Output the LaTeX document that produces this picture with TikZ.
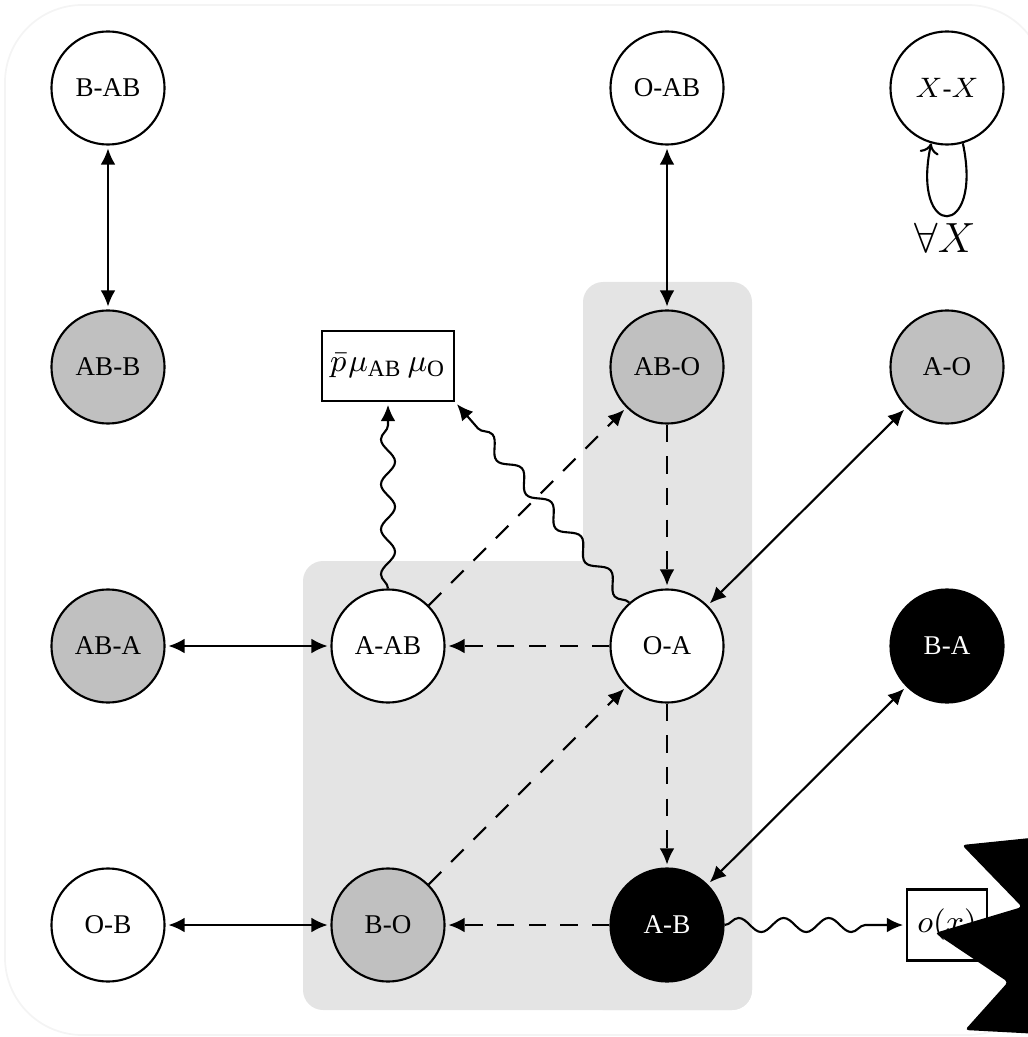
\documentclass[tikz,border=0pt]{standalone}
\usepackage{fontspec}
\setmainfont{Liberation Serif}
\usetikzlibrary{arrows.meta,decorations.pathmorphing}
\definecolor{nodegray}{HTML}{C0C0C0}
\definecolor{plategray}{HTML}{E4E4E4}
\definecolor{outline}{HTML}{F4F4F4}
\newcommand\labelsize{\fontsize{7.7}{9}\selectfont}
\newcommand\factorsize{\fontsize{9.5}{11}\selectfont}
\tikzset{
  state/.style={circle, draw, line width=0.6pt, minimum size=1.13cm, inner sep=0pt, font=\labelsize},
  obs/.style={state, fill=nodegray},
  hid/.style={state, fill=white},
  blk/.style={state, fill=black, text=white},
  factor/.style={rectangle, draw, line width=0.6pt, fill=white, inner sep=0pt, font=\factorsize},
  biarrow/.style={<->, shorten >=0.8pt, shorten <=0.8pt},
  dasharrow/.style={->, dash pattern=on 5pt off 4pt, shorten >=0.8pt},
  wavy/.style={->, shorten >=0.8pt, decorate, decoration={snake, segment length=12.8pt, amplitude=2pt, post length=5.5pt}},
}
\begin{document}
\begin{tikzpicture}[x=0.01cm, y=-0.01cm, line width=0.6pt, >={Latex[length=4.6pt,width=4.2pt]}]
\useasboundingbox (0,0) rectangle (1028,1037);
% faint outer frame
\begin{scope}
  \clip (0,0) rectangle (1028,1037);
  \draw[outline, line width=0.5pt, rounded corners=22pt] (5,5) rectangle (1045,1035);
\end{scope}
% shaded plates
\fill[plategray, rounded corners=5.7pt] (583,282) rectangle (752,1010);
\fill[plategray, rounded corners=5.7pt] (303,561) rectangle (752,1010);

% states
\node[hid] (BAB) at (108,88) {B-AB};
\node[hid] (OAB) at (667,88) {O-AB};
\node[hid] (XX)  at (947,88) {$X$-$X$};
\node[obs] (ABB) at (108,367) {AB-B};
\node[factor, minimum width=1.32cm, minimum height=0.70cm] (mu) at (388,366) {$\bar{p}\mskip1mu\mu_{\mathrm{AB}}\,\mu_{\mathrm{O}}$};
\node[obs] (ABO) at (667,367) {AB-O};
\node[obs] (AO)  at (947,367) {A-O};
\node[obs] (ABA) at (108,646) {AB-A};
\node[hid] (AAB) at (388,646) {A-AB};
\node[hid] (OA)  at (667,646) {O-A};
\node[blk] (BA)  at (947,646) {B-A};
\node[hid] (OB)  at (108,925) {O-B};
\node[obs] (BO)  at (388,925) {B-O};
\node[blk] (AB)  at (667,925) {A-B};
\node[factor, minimum width=0.80cm, minimum height=0.71cm] (ox) at (947,925) {$o(x)$};

% two-way links
\draw[biarrow] (BAB) -- (ABB);
\draw[biarrow] (OAB) -- (ABO);
\draw[biarrow] (ABA) -- (AAB);
\draw[biarrow] (OB) -- (BO);
\draw[biarrow] (AO) -- (OA);
\draw[biarrow] (BA) -- (AB);

% dashed transitions
\draw[dasharrow] (ABO) -- (OA);
\draw[dasharrow] (OA) -- (AAB);
\draw[dasharrow] (AAB) -- (ABO);
\draw[dasharrow] (OA) -- (AB);
\draw[dasharrow] (BO) -- (OA);
\draw[dasharrow] (AB) -- (BO);

% wavy emissions
\draw[wavy] (AAB) -- (mu);
\draw[wavy] (OA) -- (mu.south east);
\draw[wavy] (AB) -- (ox);

% self loop
\draw[-{To[length=3pt,width=5.5pt]}] (XX.-74) to[out=-78, in=-102, looseness=8] (XX.-106);
\node[font=\fontsize{11.5}{13}\selectfont] (forall) at (945,238) {$\forall X$};

% black occluding shape
\begin{scope}
  \clip (0,0) rectangle (1028,1037);
  \fill[black, rounded corners=1pt] (962,845) -- (1040,837) -- (1040,1034) -- (965,1030)
      -- (1008,982) -- (935,933) -- (1022,907) -- cycle;
\end{scope}
\end{tikzpicture}
\end{document}
